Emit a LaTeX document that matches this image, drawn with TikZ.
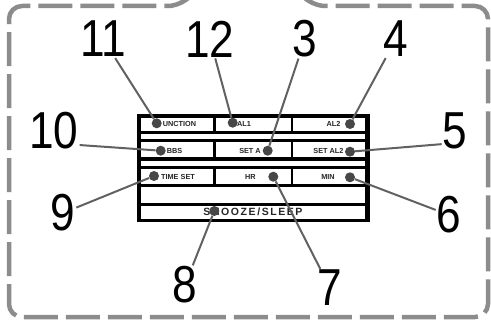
\documentclass[tikz,border=0pt]{standalone}
\usepackage{fontspec}
\setmainfont{Liberation Sans}
\begin{document}
\begin{tikzpicture}[x=1pt,y=-1pt,
 num/.style={font=\fontsize{52}{52}\selectfont, inner sep=1pt, xscale=0.85},
 lab/.style={font=\fontsize{7.3}{7.3}\selectfont\bfseries, text=black!85, inner sep=0},
 dotnode/.style={circle, fill=black!72, minimum size=10pt, inner sep=0},
 lead/.style={draw=black!62, line width=2pt},
 border/.style={draw=black!45, line width=4.5pt, dash pattern=on 34pt off 8pt, rounded corners=13pt},
 cell/.style={fill=white}]
\useasboundingbox (0,0) rectangle (491,321);
% dashed border with notch at top
\draw[border] (194,-8) -- (181,6) -- (9,6) -- (9,317) -- (488,317) -- (488,6) -- (312,6) -- (299,-8);
% panel
\fill[black] (136.5,114) rectangle (369.5,222.5);
\fill[cell] (141,118) rectangle (213.3,131.5);
\fill[cell] (216,118) rectangle (290.7,131.5);
\fill[cell] (293.3,118) rectangle (365,131.5);
\fill[cell] (141,134.5) rectangle (365,139.5);
\fill[cell] (141,142.5) rectangle (213.3,157.5);
\fill[cell] (216,142.5) rectangle (290.7,157.5);
\fill[cell] (293.3,142.5) rectangle (365,157.5);
\fill[cell] (141,161) rectangle (365,166);
\fill[cell] (141,169) rectangle (213.3,184);
\fill[cell] (216,169) rectangle (290.7,184);
\fill[cell] (293.3,169) rectangle (365,184);
\fill[cell] (141,187) rectangle (365,203);
\fill[cell] (141,206) rectangle (365,219.5);
% labels
\node[lab] (lfun) at (179.5,123.5) {UNCTION};
\node[lab] (lal1) at (244,123.5) {AL1};
\node[lab] (lal2) at (333.5,123.5) {AL2};
\node[lab] (lbbs) at (174.5,151) {BBS};
\node[lab] (lseta) at (250,151) {SET A};
\node[lab] (lsetal2) at (328.5,151) {SET AL2};
\node[lab] (ltime) at (178,177) {TIME SET};
\node[lab] (lhr) at (250.5,177) {HR};
\node[lab] (lmin) at (328,177) {MIN};
\node[lab, font=\fontsize{10.5}{10.5}\selectfont\bfseries\addfontfeatures{LetterSpace=15}] (lsnz) at (253,212) {SNOOZE/SLEEP};
% numbers
\node[num] (n11) at (103,39) {11};
\node[num] (n12) at (210,39) {12};
\node[num] (n3) at (305,39) {3};
\node[num] (n4) at (396,39) {4};
\node[num] (n10) at (54,131) {10};
\node[num] (n5) at (455,131) {5};
\node[num] (n9) at (63,213) {9};
\node[num] (n6) at (449,215) {6};
\node[num] (n8) at (185,285) {8};
\node[num] (n7) at (330,288) {7};
% dots
\node[dotnode] (d11) at (156.7,123.3) {};
\node[dotnode] (d12) at (232.7,122.7) {};
\node[dotnode] (d3) at (267.7,150.7) {};
\node[dotnode] (d4) at (350,124) {};
\node[dotnode] (d10) at (160.7,150.7) {};
\node[dotnode] (d5) at (350,151.7) {};
\node[dotnode] (d9) at (154,176) {};
\node[dotnode] (d6) at (350,177.3) {};
\node[dotnode] (d7) at (273.3,176.7) {};
\node[dotnode] (d8) at (214.3,211) {};
% leaders
\draw[lead] (n11) -- (d11);
\draw[lead] (n12) -- (d12);
\draw[lead] (n3) -- (d3);
\draw[lead] (n4) -- (d4);
\draw[lead] (n10.-25) -- (d10);
\draw[lead] (n5.220) -- (d5);
\draw[lead] (n9) -- (d9);
\draw[lead] (n6) -- (d6);
\draw[lead] (n7) -- (d7);
\draw[lead] (n8) -- (d8);
\end{tikzpicture}
\end{document}
